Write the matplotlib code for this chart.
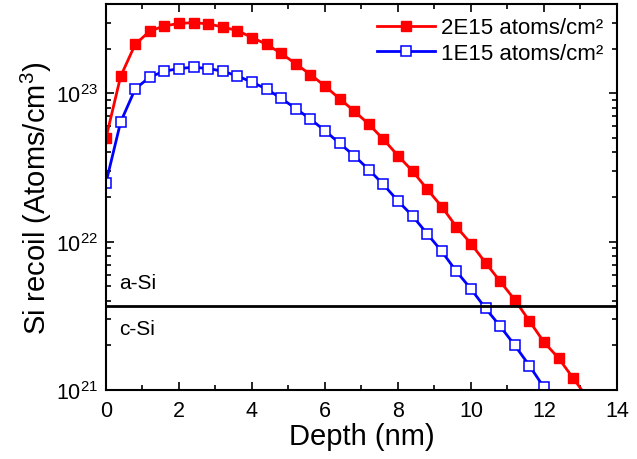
import numpy as np
import matplotlib.pyplot as plt
from matplotlib.ticker import MultipleLocator, LogLocator, NullFormatter

plt.rcParams['font.family'] = ['Liberation Sans', 'DejaVu Sans']
plt.rcParams['mathtext.fontset'] = 'custom'
plt.rcParams['mathtext.rm'] = 'Liberation Sans'
plt.rcParams['mathtext.it'] = 'Liberation Sans:italic'

# depth (nm)
depth_2e15 = [0.0, 0.4, 0.8, 1.2, 1.6, 2.0, 2.4, 2.8, 3.2, 3.6, 4.0, 4.4, 4.8,
              5.2, 5.6, 6.0, 6.4, 6.8, 7.2, 7.6, 8.0, 8.4, 8.8, 9.2, 9.6, 10.0,
              10.4, 10.8, 11.2, 11.6, 12.0, 12.4, 12.8, 13.2]
recoil_2e15 = [5.0e22, 1.30e23, 2.14e23, 2.63e23, 2.85e23, 2.96e23, 3.0e23,
               2.94e23, 2.80e23, 2.65e23, 2.38e23, 2.14e23, 1.86e23, 1.58e23,
               1.34e23, 1.12e23, 9.2e22, 7.6e22, 6.2e22, 4.9e22, 3.8e22,
               2.99e22, 2.26e22, 1.72e22, 1.26e22, 9.7e21, 7.2e21, 5.4e21,
               4.05e21, 2.92e21, 2.1e21, 1.64e21, 1.2e21, 8.8e20]

depth_1e15 = [0.0, 0.4, 0.8, 1.2, 1.6, 2.0, 2.4, 2.8, 3.2, 3.6, 4.0, 4.4, 4.8,
              5.2, 5.6, 6.0, 6.4, 6.8, 7.2, 7.6, 8.0, 8.4, 8.8, 9.2, 9.6, 10.0,
              10.4, 10.8, 11.2, 11.6, 12.0, 12.4]
recoil_1e15 = [2.5e22, 6.4e22, 1.07e23, 1.29e23, 1.41e23, 1.47e23, 1.50e23,
               1.47e23, 1.41e23, 1.31e23, 1.19e23, 1.07e23, 9.25e22, 7.9e22,
               6.7e22, 5.6e22, 4.6e22, 3.8e22, 3.06e22, 2.43e22, 1.88e22,
               1.49e22, 1.13e22, 8.6e21, 6.3e21, 4.8e21, 3.55e21, 2.69e21,
               2.0e21, 1.46e21, 1.04e21, 7.4e20]

interface = 3.7e21  # a-Si / c-Si boundary

fig = plt.figure(figsize=(6.37, 4.6), dpi=100)
ax = fig.add_axes([0.1664, 0.15, 0.8022, 0.839])

ax.plot(depth_2e15, recoil_2e15, color='#ff0000', lw=2, marker='s',
        ms=7, mfc='#ff0000', mec='#ff0000', label='2E15 atoms/cm²')
ax.plot(depth_1e15, recoil_1e15, color='#0000ff', lw=2, marker='s',
        ms=7, mfc='white', mec='#0000ff', mew=1.1, label='1E15 atoms/cm²')
ax.axhline(interface, color='black', lw=2)

ax.text(0.35, 4.6e21, 'a-Si', fontsize=15, va='bottom')
ax.text(0.35, 3.0e21, 'c-Si', fontsize=15, va='top')

ax.set_yscale('log')
ax.set_xlim(0, 14)
ax.set_ylim(1e21, 4e23)
ax.xaxis.set_major_locator(MultipleLocator(2))
ax.xaxis.set_minor_locator(MultipleLocator(1))
ax.yaxis.set_major_locator(LogLocator(base=10))
ax.yaxis.set_minor_locator(LogLocator(base=10, subs=np.arange(2, 10)))
ax.yaxis.set_minor_formatter(NullFormatter())
ax.tick_params(which='both', direction='in', top=True, right=True, width=1.2)
ax.tick_params(which='major', length=6, labelsize=15.5)
ax.tick_params(axis='x', which='major', pad=7)
ax.tick_params(axis='y', which='major', pad=6)
ax.tick_params(which='minor', length=3.5)
for s in ax.spines.values():
    s.set_linewidth(1.5)

ax.set_xlabel('Depth (nm)', fontsize=21, labelpad=1)
ax.set_ylabel('Si recoil (Atoms/cm$^3$)', fontsize=21, labelpad=1)

ax.legend(loc='upper right', frameon=False, fontsize=16, handlelength=2.6,
          handletextpad=0.3, borderaxespad=0.2, labelspacing=0.2)

plt.savefig('out.png', dpi=100)
